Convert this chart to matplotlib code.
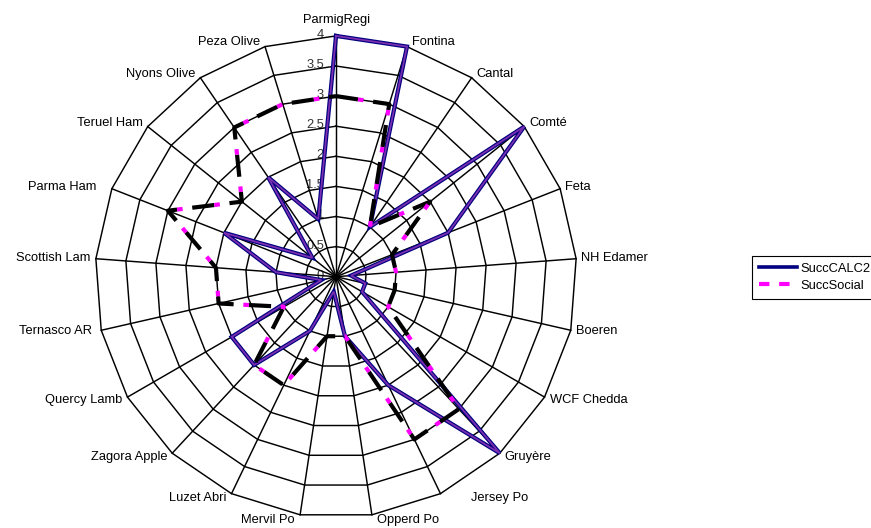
import numpy as np
import matplotlib
matplotlib.use("Agg")
import matplotlib.pyplot as plt
from matplotlib.lines import Line2D

plt.rcParams["font.family"] = ["Liberation Sans", "DejaVu Sans"]
plt.rcParams["lines.scale_dashes"] = False

categories = ["ParmigRegi", "Fontina", "Cantal", "Comté", "Feta", "NH Edamer", "Boeren",
              "WCF Chedda", "Gruyère", "Jersey Po", "Opperd Po", "Mervil Po", "Luzet Abri",
              "Zagora Apple", "Quercy Lamb", "Ternasco AR", "Scottish Lam", "Parma Ham",
              "Teruel Ham", "Nyons Olive", "Peza Olive"]
succ_calc2 = [4, 4, 1, 4, 2, 0.25, 0.5, 0.5, 4, 2, 1, 0.25, 1, 2, 2, 0.25, 1, 2, 0.5, 2, 1]
succ_social = [3, 3, 1, 2, 1, 1, 1, 1, 3, 3, 1, 1, 2, 2, 1, 2, 2, 3, 2, 3, 3]
ring_values = [0, 0.5, 1, 1.5, 2, 2.5, 3, 3.5, 4]
ring_labels = ["0", "0.5", "1", "1.5", "2", "2.5", "3", "3.5", "4"]
series_names = ["SuccCALC2", "SuccSocial"]

W, H, DPI = 871, 528, 100
CX, CY = 336.0, 276.7      # centre of the web, pixels from top-left
PX = 60.2                  # pixels per unit of value
FS = 9.3

fig = plt.figure(figsize=(W / DPI, H / DPI), dpi=DPI)
fig.patch.set_facecolor("white")
ax = fig.add_axes([0, 0, 1, 1])
ax.set_xlim(-CX / PX, (W - CX) / PX)
ax.set_ylim(-(H - CY) / PX, CY / PX)
ax.axis("off")

n = len(categories)
theta = 2 * np.pi * np.arange(n) / n
rmax = max(ring_values)


def web_xy(values):
    v = np.asarray(values, dtype=float)
    x = v * np.sin(theta)
    y = v * np.cos(theta)
    return np.append(x, x[0]), np.append(y, y[0])


# polygonal rings and spokes
for rv in ring_values[1:]:
    gx, gy = web_xy([rv] * n)
    ax.plot(gx, gy, color="black", lw=1.05, zorder=2)
for t in theta:
    ax.plot([0, rmax * np.sin(t)], [0, rmax * np.cos(t)], color="black", lw=1.05, zorder=2)

# value labels along the first spoke
for rv, lab in zip(ring_values, ring_labels):
    ax.annotate(lab, (0, rv), xytext=(-12, 1), textcoords="offset pixels",
                ha="right", va="center", fontsize=FS, color="#333333", zorder=1)

# category labels around the outside
extra_dx = {"Jersey Po": 26, "Parma Ham": -10, "Ternasco AR": -4}
for i, (t, lab) in enumerate(zip(theta, categories)):
    s, c = np.sin(t), np.cos(t)
    px, py = rmax * s, rmax * c
    if abs(s) < 1e-6:
        ax.annotate(lab, (px, py), xytext=(0, 10), textcoords="offset pixels",
                    ha="center", va="bottom", fontsize=FS)
        continue
    ha = "left" if s > 0 else "right"
    dx = (5 if s > 0 else -5) + extra_dx.get(lab, 0)
    dy = 5 * c
    ax.annotate(lab, (px, py), xytext=(dx, dy), textcoords="offset pixels",
                ha=ha, va="center", fontsize=FS)

# SuccCALC2: navy line with a purple core
cx2, cy2 = web_xy(succ_calc2)
ax.plot(cx2, cy2, color="#000080", lw=3.0, solid_joinstyle="miter", zorder=4)
ax.plot(cx2, cy2, color="#7a2fb0", lw=1.3, solid_joinstyle="miter", zorder=5)

# SuccSocial: dashed, black dash followed by a short magenta dash
sx, sy = web_xy(succ_social)
Lb, Lm, G = 16.0, 4.0, 7.0
ax.plot(sx, sy, color="black", lw=3.0, linestyle=(0, (Lb, Lm + G)),
        dash_capstyle="butt", zorder=6)
ax.plot(sx, sy, color="#ff00ff", lw=3.0, linestyle=(Lm + G, (Lm, G + Lb)),
        dash_capstyle="butt", zorder=6)

handles = [Line2D([], [], color="#000080", lw=2.6),
           Line2D([], [], color="#ff00ff", lw=3.0, linestyle=(0, (7.5, 7.0)))]
leg = ax.legend(handles, series_names, loc="upper left",
                bbox_to_anchor=(751.5 / W, 1 - 255.5 / H), bbox_transform=fig.transFigure,
                frameon=True, fancybox=False, framealpha=1, edgecolor="black",
                fontsize=FS, handlelength=3.0, handletextpad=0.2, borderpad=0.55,
                labelspacing=0.4, borderaxespad=0)
leg.get_frame().set_linewidth(0.8)

fig.savefig("out.png", dpi=DPI, facecolor="white")
